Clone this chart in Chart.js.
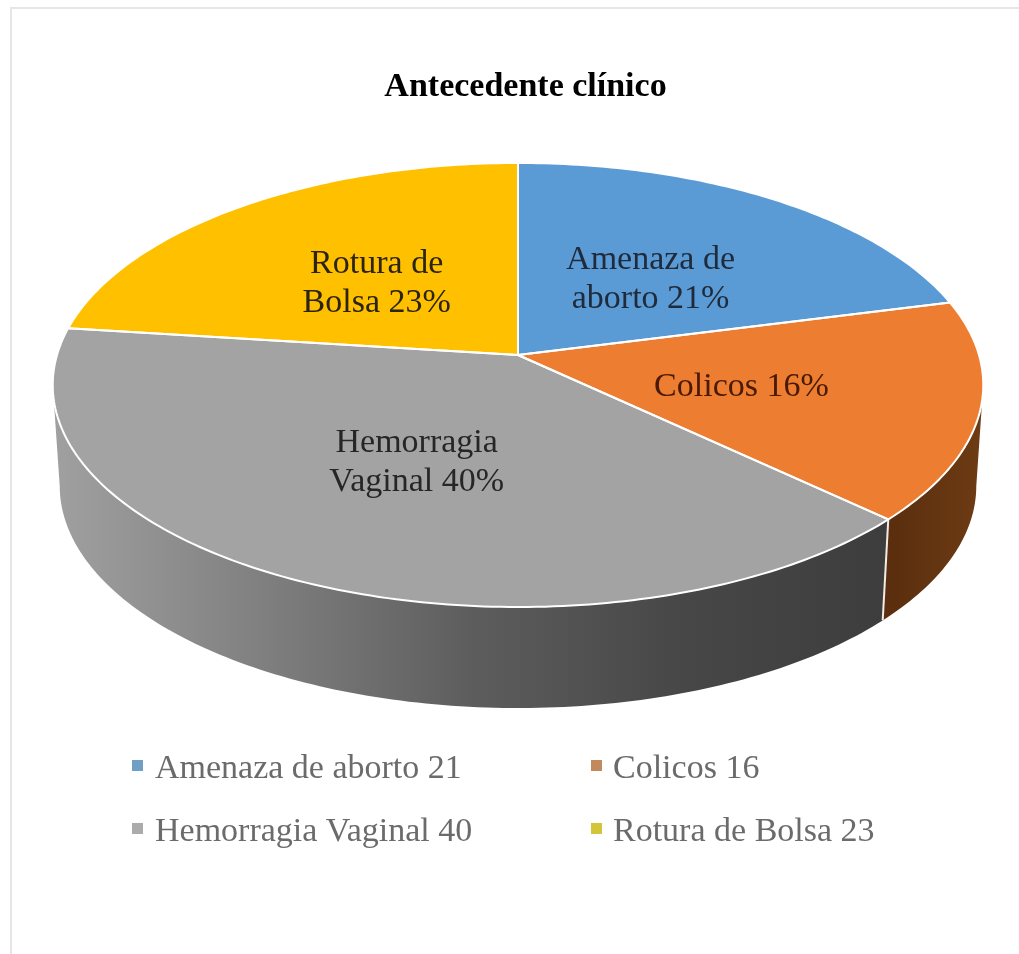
<!DOCTYPE html>
<html>
<head>
<meta charset="utf-8">
<style>
html,body{margin:0;padding:0;background:#fff;overflow:hidden;width:1019px;height:954px}
#frame{position:absolute;left:10px;top:7px;right:-4px;bottom:-4px;border:2px solid #e6e6e6;box-sizing:border-box}
#wrap{position:absolute;left:0;top:0;width:1019px;height:954px}
canvas{filter:blur(0.5px)}
</style>
<script src="https://cdn.jsdelivr.net/npm/chart.js@4/dist/chart.umd.min.js"></script>
</head>
<body>
<div id="frame"></div>
<div id="wrap"><canvas id="c" width="1019" height="954"></canvas></div>
<script>
const titleText = 'Antecedente clínico';
const categories = ['Amenaza de aborto', 'Colicos', 'Hemorragia Vaginal', 'Rotura de Bolsa'];
const values = [21, 16, 40, 23];
const labelLines = [['Amenaza de'], ['Colicos'], ['Hemorragia'], ['Rotura de']];
const lastLineWords = ['aborto', '', 'Vaginal', 'Bolsa'];
const colors = ['#5b9bd5', '#ed7d31', '#a3a3a3', '#ffc000'];
const labelColors = ['#1f2a3a', '#4a1a05', '#262626', '#2b2410'];
const legendMarkerColors = ['#6f9fc4', '#c08a5e', '#ababab', '#d2c53a'];

// Perspective projection of the pie's circular top
const P = {cx: 518, cy: 355, A: 218, B: 461, k: 0.135, depth: 101, baseScale: 0.985};
function project(a, r, base) {
  const u = r * Math.cos(a), v = r * Math.sin(a), d = 1 - P.k * v;
  return {
    x: P.cx + (base ? P.baseScale : 1) * P.B * u / d,
    y: P.cy + P.A * v / d + (base ? P.depth : 0)
  };
}
function sample(a1, a2, base) {
  const n = Math.max(8, Math.ceil(Math.abs(a2 - a1) * 60)), pts = [];
  for (let i = 0; i <= n; i++) pts.push(project(a1 + (a2 - a1) * i / n, 1, base));
  return pts;
}

const pie3d = {
  id: 'pie3d',
  beforeDatasetsDraw(chart) {
    const ctx = chart.ctx, arcs = chart.getDatasetMeta(0).data;
    ctx.save();
    // side walls: only the camera-facing part of each slice's rim
    const aR = Math.asin(P.k), aL = Math.PI - aR;
    const walls = [
      {i: 1, stops: [[0, '#5a2e0e'], [1, '#6e3c14']], x0: 890, x1: 985},
      {i: 2, stops: [[0, '#a0a0a0'], [0.2, '#868686'], [0.5, '#5d5d5d'], [0.75, '#474747'], [1, '#3d3d3d']], x0: 55, x1: 890}
    ];
    walls.forEach(w => {
      const arc = arcs[w.i];
      const a1 = Math.max(arc.startAngle, aR), a2 = Math.min(arc.endAngle, aL);
      const top = sample(a1, a2, false);
      const bot = sample(a2, a1, true);
      const g = ctx.createLinearGradient(w.x0, 0, w.x1, 0);
      w.stops.forEach(s => g.addColorStop(s[0], s[1]));
      ctx.beginPath();
      top.concat(bot).forEach((p, j) => j ? ctx.lineTo(p.x, p.y) : ctx.moveTo(p.x, p.y));
      ctx.closePath();
      ctx.fillStyle = g;
      ctx.fill();
    });
    // seam between the two walls
    const sa = arcs[2].startAngle, s0 = project(sa, 1, false), s1 = project(sa, 1, true);
    ctx.strokeStyle = '#f2ece6';
    ctx.lineWidth = 2;
    ctx.beginPath(); ctx.moveTo(s0.x, s0.y); ctx.lineTo(s1.x, s1.y); ctx.stroke();
    // top face
    arcs.forEach(arc => {
      const pts = sample(arc.startAngle, arc.endAngle, false);
      ctx.beginPath();
      ctx.moveTo(P.cx, P.cy);
      pts.forEach(p => ctx.lineTo(p.x, p.y));
      ctx.closePath();
      ctx.fillStyle = arc.options.backgroundColor;
      ctx.fill();
    });
    arcs.forEach(arc => {
      const pts = sample(arc.startAngle, arc.endAngle, false);
      ctx.beginPath();
      ctx.moveTo(P.cx, P.cy);
      pts.forEach(p => ctx.lineTo(p.x, p.y));
      ctx.closePath();
      ctx.strokeStyle = '#ffffff';
      ctx.lineWidth = 2;
      ctx.lineJoin = 'round';
      ctx.stroke();
    });
    // data labels
    const total = values.reduce((a, b) => a + b, 0);
    ctx.font = '34px "Liberation Serif"';
    ctx.textAlign = 'center';
    ctx.textBaseline = 'middle';
    arcs.forEach((arc, i) => {
      const mid = (arc.startAngle + arc.endAngle) / 2;
      const c = project(mid, 0.49, false);
      const pct = Math.round(values[i] / total * 100) + '%';
      const lines = lastLineWords[i]
        ? [labelLines[i][0], lastLineWords[i] + ' ' + pct]
        : [labelLines[i][0] + ' ' + pct];
      ctx.fillStyle = labelColors[i];
      lines.forEach((t, j) => ctx.fillText(t, c.x + 1, c.y + 5 + (j - (lines.length - 1) / 2) * 39));
    });
    // legend
    const cols = [{m: 132, t: 155}, {m: 591, t: 613}], rows = [766, 829];
    ctx.font = '34px "Liberation Serif"';
    ctx.textAlign = 'left';
    categories.forEach((name, i) => {
      const col = cols[i % 2], y = rows[Math.floor(i / 2)];
      ctx.fillStyle = legendMarkerColors[i];
      ctx.fillRect(col.m, y - 6, 11, 11);
      ctx.fillStyle = '#6b6b6b';
      ctx.fillText(name + ' ' + values[i], col.t, y + 3);
    });
    ctx.restore();
    return false;
  }
};

new Chart(document.getElementById('c'), {
  type: 'pie',
  plugins: [pie3d],
  data: {
    labels: categories,
    datasets: [{data: values, backgroundColor: colors, borderColor: '#ffffff', borderWidth: 2}]
  },
  options: {
    responsive: false,
    animation: false,
    layout: {padding: {left: 32, top: 0}},
    plugins: {
      legend: {display: false},
      tooltip: {enabled: false},
      title: {
        display: true,
        text: titleText,
        color: '#000000',
        font: {family: '"Liberation Serif"', size: 34, weight: 'bold', lineHeight: 1.2},
        padding: {top: 67, bottom: 10}
      }
    }
  }
});
</script>
</body>
</html>
